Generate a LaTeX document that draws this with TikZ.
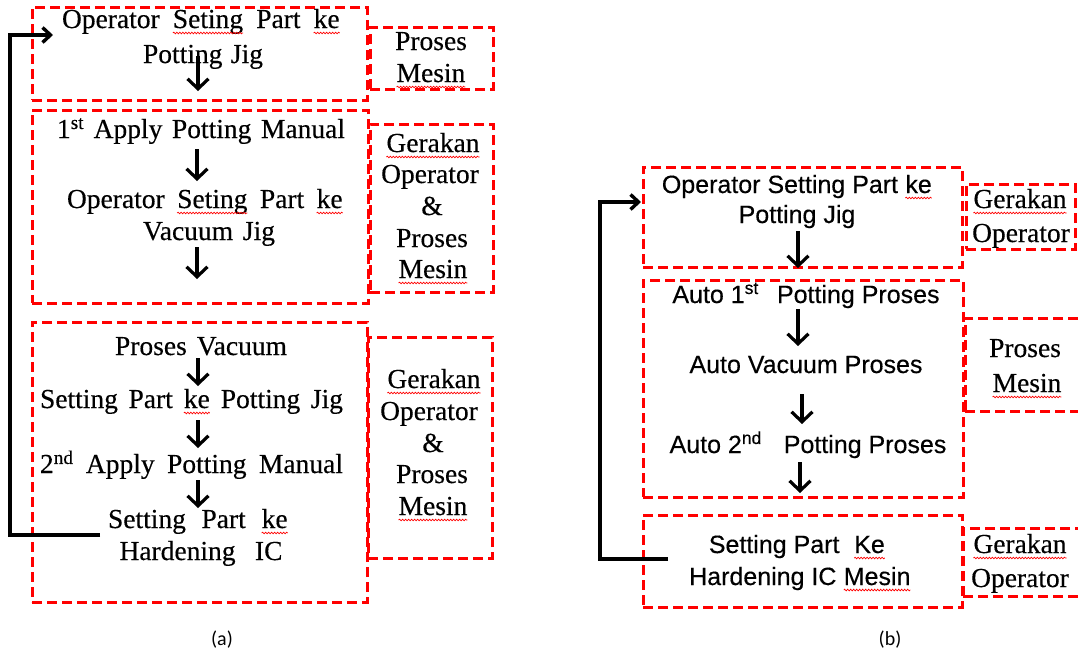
\documentclass[tikz,border=0pt]{standalone}
\usepackage{fontspec}
\setmainfont{Liberation Serif}[FakeBold=0.35]
\newfontfamily\arialf{Liberation Sans}[FakeBold=0.35]
\newfontfamily\calibf{Carlito}
\usetikzlibrary{arrows.meta,decorations.pathmorphing}
\newcommand\wv[1]{\tikz[baseline=(wvn.base)]{\node[inner sep=0pt,outer sep=0pt](wvn){#1};\draw[red,line width=0.7pt,decorate,decoration={snake,amplitude=0.8pt,segment length=3pt}]([yshift=-5pt]wvn.base west)--([yshift=-5pt]wvn.base east);}}
\tikzset{
 stxt/.style={anchor=base,inner sep=0pt,font=\fontsize{27.5}{33}\selectfont},
 utxt/.style={anchor=base,inner sep=0pt,font=\arialf\fontsize{25}{30}\selectfont},
 rbox/.style={draw=red,line width=3pt,dash pattern=on 10pt off 5pt,inner sep=0pt},
 arr/.style={draw,line width=3.2pt,-{Straight Barb[length=10pt,width=21pt]}},
 fbarr/.style={draw,line width=3.4pt,-{Straight Barb[length=8pt,width=15pt]}},
 capt/.style={anchor=base,inner sep=0pt,font=\calibf\fontsize{20}{24}\selectfont}
}
\begin{document}
\begin{tikzpicture}[x=1pt,y=-1pt]
\useasboundingbox (0,0) rectangle (1078,651);
\fill[white] (0,0) rectangle (1078,651);
% ---------- (a) boxes
\node[rbox,minimum width=335pt,minimum height=93pt] (A1) at (199.5,53.5) {};
\node[rbox,minimum width=123pt,minimum height=62pt] (sA1) at (431.5,58) {};
\node[rbox,minimum width=336pt,minimum height=193pt] (A2) at (200,206.5) {};
\node[rbox,minimum width=123pt,minimum height=168pt] (sA2) at (431.5,208) {};
\node[rbox,minimum width=335pt,minimum height=280pt] (A3) at (199.5,462) {};
\node[rbox,minimum width=124pt,minimum height=221pt] (sA3) at (430,447.5) {};
% ---------- (a) texts
\node[stxt] (t11) at (201,28) {\makebox[278pt][s]{Operator \wv{Seting} Part \wv{ke}}};
\node[stxt] (t12) at (203,63) {\makebox[120pt][s]{Potting Jig}};
\node[stxt] (t21) at (201,138) {\makebox[288pt][s]{1\textsuperscript{st} Apply Potting Manual}};
\node[stxt] (t22) at (205,208) {\makebox[276pt][s]{Operator \wv{Seting} Part \wv{ke}}};
\node[stxt] (t23) at (209,240) {\makebox[132pt][s]{Vacuum Jig}};
\node[stxt] (t31) at (201,355) {\makebox[172pt][s]{Proses Vacuum}};
\node[stxt] (t32) at (191.5,408) {\makebox[303pt][s]{Setting Part \wv{ke} Potting Jig}};
\node[stxt] (t33) at (191.5,473) {\makebox[303pt][s]{2\textsuperscript{nd} Apply Potting Manual}};
\node[stxt] (t34) at (198,528) {\makebox[180pt][s]{Setting Part \wv{ke}}};
\node[stxt] (t35) at (201,560) {\makebox[163pt][s]{Hardening IC}};
% side texts (a)
\node[stxt] (p11) at (431,50) {Proses};
\node[stxt] (p12) at (431,82) {\wv{Mesin}};
\node[stxt] (p21) at (433,152) {\wv{Gerakan}};
\node[stxt] (p22) at (430,183) {Operator};
\node[stxt] (p23) at (432,215) {\&};
\node[stxt] (p24) at (432,247) {Proses};
\node[stxt] (p25) at (433,278) {\wv{Mesin}};
\node[stxt] (p31) at (434,388) {\wv{Gerakan}};
\node[stxt] (p32) at (429,420) {Operator};
\node[stxt] (p33) at (433,452) {\&};
\node[stxt] (p34) at (432,483) {Proses};
\node[stxt] (p35) at (433,515) {\wv{Mesin}};
% arrows (a)
\coordinate (a1s) at (198,56); \coordinate (a1e) at (198,91);
\coordinate (a2s) at (197,149); \coordinate (a2e) at (197,181);
\coordinate (a3s) at (197,247); \coordinate (a3e) at (197,279);
\coordinate (a4s) at (198,358); \coordinate (a4e) at (198,386);
\coordinate (a5s) at (198,420); \coordinate (a5e) at (198,448);
\coordinate (a6s) at (198,480); \coordinate (a6e) at (198,508);
\draw[arr] (a1s) -- (a1e);
\draw[arr] (a2s) -- (a2e);
\draw[arr] (a3s) -- (a3e);
\draw[arr] (a4s) -- (a4e);
\draw[arr] (a5s) -- (a5e);
\draw[arr] (a6s) -- (a6e);
% feedback (a)
\coordinate (fas) at (100,535);
\coordinate (fae) at (53,35);
\draw[fbarr] (fas) -- (10,535) -- (10,35) -- (fae);
% ---------- (b) boxes
\node[rbox,minimum width=319pt,minimum height=100pt] (B1) at (802.5,217) {};
\node[rbox,minimum width=109pt,minimum height=65pt] (sB1) at (1020.5,216.5) {};
\node[rbox,minimum width=320pt,minimum height=217pt] (B2) at (803,388.5) {};
\node[rbox,minimum width=130pt,minimum height=93pt] (sB2) at (1030,364.5) {};
\node[rbox,minimum width=319pt,minimum height=92pt] (B3) at (802.5,561) {};
\node[rbox,minimum width=132pt,minimum height=68pt] (sB3) at (1029,562) {};
% (b) texts
\node[utxt] (u11) at (797,193) {Operator Setting Part \wv{ke}};
\node[utxt] (u12) at (797,223) {Potting Jig};
\node[utxt] (u21) at (806,303) {Auto 1\textsuperscript{st}\hspace{0.45em} Potting Proses};
\node[utxt] (u22) at (806,373) {Auto Vacuum Proses};
\node[utxt] (u23) at (808,453) {Auto 2\textsuperscript{nd}\hspace{0.6em} Potting Proses};
\node[utxt] (u31) at (797,553) {Setting Part\hspace{0.3em} \wv{Ke}};
\node[utxt] (u32) at (800,585) {Hardening IC \wv{Mesin}};
\node[stxt] (q11) at (1020,208) {\wv{Gerakan}};
\node[stxt] (q12) at (1021,242) {Operator};
\node[stxt] (q21) at (1025,357) {Proses};
\node[stxt] (q22) at (1027,392) {\wv{Mesin}};
\node[stxt] (q31) at (1020,553) {\wv{Gerakan}};
\node[stxt] (q32) at (1020,587) {Operator};
% arrows (b)
\coordinate (b1s) at (798,231); \coordinate (b1e) at (798,268);
\coordinate (b2s) at (798,309); \coordinate (b2e) at (798,346);
\coordinate (b3s) at (802,394); \coordinate (b3e) at (802,424);
\coordinate (b4s) at (800,462); \coordinate (b4e) at (800,493);
\draw[arr] (b1s) -- (b1e);
\draw[arr] (b2s) -- (b2e);
\draw[arr] (b3s) -- (b3e);
\draw[arr] (b4s) -- (b4e);
% feedback (b)
\coordinate (fbs) at (668,559);
\coordinate (fbe) at (641,202);
\draw[fbarr] (fbs) -- (600,559) -- (600,202) -- (fbe);
% captions
\node[capt] (ca) at (222,645) {(a)};
\node[capt] (cb) at (890,645) {(b)};
\end{tikzpicture}
\end{document}
